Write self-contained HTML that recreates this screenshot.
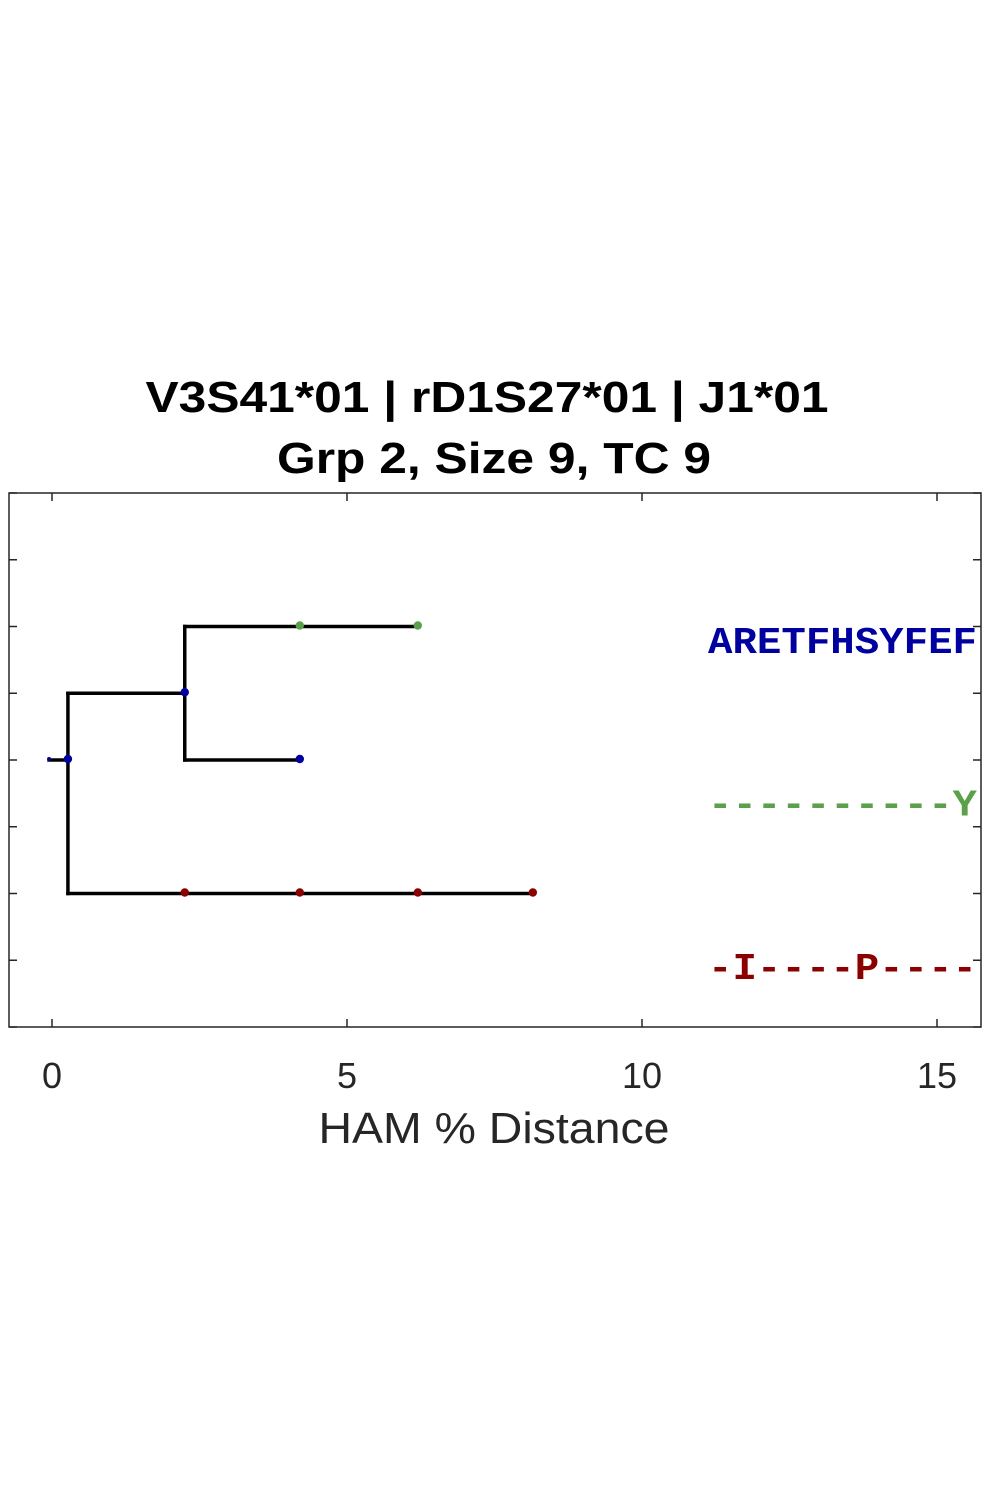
<!DOCTYPE html>
<html><head><meta charset="utf-8"><style>
html,body{margin:0;padding:0;background:#fff;width:990px;height:1500px;overflow:hidden}
</style></head><body>
<svg id="chart" width="990" height="1500" xmlns="http://www.w3.org/2000/svg">
<text x="487" y="412" text-anchor="middle" font-family="Liberation Sans, sans-serif" font-weight="bold" font-size="44" textLength="683" lengthAdjust="spacingAndGlyphs">V3S41*01 | rD1S27*01 | J1*01</text>
<text x="494" y="473" text-anchor="middle" font-family="Liberation Sans, sans-serif" font-weight="bold" font-size="44" textLength="434" lengthAdjust="spacingAndGlyphs">Grp 2, Size 9, TC 9</text>
<rect x="9" y="493" width="972" height="534" fill="none" stroke="#262626" stroke-width="1.5"/>
<g id="ticks"></g>
<g id="tree"></g>
<g id="seqs"></g>
<text x="494" y="1143" text-anchor="middle" font-family="Liberation Sans, sans-serif" font-size="44" fill="#262626" textLength="351" lengthAdjust="spacingAndGlyphs">HAM % Distance</text>
</svg>
<script>
const xTicks = [0, 5, 10, 15];
const yTickCount = 9;
const branchX0 = [-0.05, 0.27, 2.25, 2.25, 0.27];
const branchX1 = [0.27, 2.25, 6.2, 4.2, 8.15];
const branchRow = [4, 3, 2, 4, 6];
const vertX = [0.27, 2.25];
const vertTop = [3, 2];
const vertBot = [6, 4];
const nodeX = [-0.05, 0.27, 2.25, 4.2, 6.2, 4.2, 2.25, 4.2, 6.2, 8.15];
const nodeRow = [4, 4, 3, 2, 2, 4, 6, 6, 6, 6];
const nodeColor = ['#0000a0','#0000a0','#0000a0','#5ba04a','#5ba04a','#0000a0','#8b0000','#8b0000','#8b0000','#8b0000'];
const seqTexts = ['ARETFHSYFEF', '----------Y', '-I----P----'];
const seqRow = [2.4, 4.83, 7.28];
const seqColor = ['#0000a0', '#5ba04a', '#8b0000'];

const NS = 'http://www.w3.org/2000/svg';
const X = v => 52 + v * 59;
const Y = r => 493 + r * (534 / 8);
function mk(tag, attrs, parent){const e=document.createElementNS(NS,tag);for(const k in attrs)e.setAttribute(k,attrs[k]);parent.appendChild(e);return e;}
const tg=document.getElementById('ticks'), tr=document.getElementById('tree'), sg=document.getElementById('seqs');
xTicks.forEach(t=>{
  const l1=mk('line',{x1:X(t),x2:X(t),y1:1027,y2:1019,stroke:'#262626','stroke-width':1.5},tg);
  
  
  const l2=mk('line',{x1:X(t),x2:X(t),y1:493,y2:501,stroke:'#262626','stroke-width':1.5},tg);
  
  
  const tx=mk('text',{x:X(t),y:1088,'text-anchor':'middle','font-family':'Liberation Sans, sans-serif','font-size':36,fill:'#262626'},tg);
  tx.textContent=t;
  
  
});
for(let i=0;i<yTickCount;i++){
  const a=mk('line',{x1:9,x2:17,y1:Y(i),y2:Y(i),stroke:'#262626','stroke-width':1.5},tg);
  
  
  const b=mk('line',{x1:973,x2:981,y1:Y(i),y2:Y(i),stroke:'#262626','stroke-width':1.5},tg);
  
  
}
for(let i=0;i<branchX0.length;i++){
  const l=mk('line',{x1:X(branchX0[i]),x2:X(branchX1[i]),y1:Y(branchRow[i]),y2:Y(branchRow[i]),stroke:'#000','stroke-width':3.5,'stroke-linecap':'square'},tr);
  
  
}
for(let i=0;i<vertX.length;i++){
  const l=mk('line',{x1:X(vertX[i]),x2:X(vertX[i]),y1:Y(vertTop[i]),y2:Y(vertBot[i]),stroke:'#000','stroke-width':3.5,'stroke-linecap':'square'},tr);
  
  
}
for(let i=0;i<nodeX.length;i++){
  const c=mk('circle',{cx:X(nodeX[i]),cy:Y(nodeRow[i])-1,r:i===0?2:4.2,fill:nodeColor[i]},tr);
  
  
}
for(let i=0;i<seqTexts.length;i++){
  const t=mk('text',{x:708,y:Y(seqRow[i]),'font-family':'Liberation Mono, Courier New, monospace','font-weight':'bold','font-size':38,fill:seqColor[i],textLength:269,lengthAdjust:'spacingAndGlyphs'},sg);
  t.textContent=seqTexts[i];
  
  
}
</script>
</body></html>
